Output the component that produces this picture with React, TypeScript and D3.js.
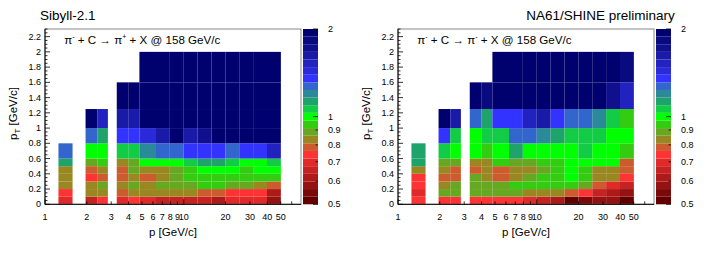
import React from "react";
import * as d3 from "d3";

// p bins [GeV/c] (low / high edges), pT bin edges [GeV/c]
const pLow = [1.25, 1.96, 2.38, 3.29, 3.98, 4.79, 6.31, 7.94, 10.0, 12.59, 15.85, 19.95, 25.12, 31.62, 39.81];
const pHigh = [1.58, 2.38, 2.84, 3.98, 4.79, 6.31, 7.94, 10.0, 12.59, 15.85, 19.95, 25.12, 31.62, 39.81, 50.12];
const ptEdges = [0, 0.1, 0.2, 0.3, 0.4, 0.5, 0.6, 0.8, 1.0, 1.25, 1.6, 2.0];

// ratio values per p bin, listed from the lowest pT bin upward
const sibyll = [
  [0.70, 0.74, 0.84, 0.84, 0.84, 1.13, 1.27],
  [0.66, 0.84, 0.84, 0.74, 0.79, 0.89, 1.00, 1.27, 1.97],
  [0.74, 0.84, 0.89, 0.79, 0.84, 0.94, 1.00, 1.13, 1.53],
  [0.70, 0.79, 0.84, 0.79, 0.79, 0.84, 1.06, 1.35, 1.62, 1.97],
  [0.74, 0.84, 0.89, 0.84, 0.89, 0.89, 1.06, 1.35, 1.62, 1.97],
  [0.70, 0.84, 0.84, 0.79, 0.84, 1.00, 1.20, 1.44, 1.97, 1.97, 1.97],
  [0.66, 0.84, 0.89, 0.84, 0.84, 1.00, 1.27, 1.62, 1.97, 1.97, 1.97],
  [0.66, 0.84, 0.89, 0.89, 0.89, 1.00, 1.27, 1.97, 1.97, 1.97, 1.97],
  [0.66, 0.84, 0.89, 0.94, 0.94, 1.06, 1.35, 1.62, 1.97, 1.97, 1.97],
  [0.66, 0.79, 0.94, 0.94, 1.00, 1.13, 1.35, 1.72, 1.97, 1.97, 1.97],
  [0.62, 0.79, 0.94, 0.94, 1.00, 1.13, 1.35, 1.97, 1.97, 1.97, 1.97],
  [0.70, 0.74, 0.89, 0.94, 1.00, 1.06, 1.27, 1.97, 1.97, 1.97, 1.97],
  [0.70, 0.74, 0.89, 0.94, 0.94, 1.00, 1.35, 1.97, 1.97, 1.97, 1.97],
  [0.70, 0.74, 0.84, 0.94, 1.00, 1.00, 1.35, 1.97, 1.97, 1.97, 1.97],
  [0.58, 0.62, 0.79, 0.94, 1.00, 1.06, 1.53, 1.97, 1.97, 1.97, 1.97],
];

const na61 = [
  [0.74, 0.70, 0.74, 0.74, 0.84, 1.13, 1.13],
  [0.74, 0.89, 0.84, 0.79, 0.84, 0.89, 1.06, 1.35, 1.97],
  [0.74, 0.89, 0.89, 0.79, 0.79, 0.89, 1.00, 1.06, 1.62],
  [0.74, 0.89, 0.89, 0.89, 0.79, 0.84, 1.00, 1.00, 1.27, 1.97],
  [0.74, 0.89, 0.89, 0.84, 0.84, 0.84, 0.94, 1.06, 1.13, 1.83],
  [0.74, 0.89, 0.89, 0.79, 0.79, 0.94, 1.00, 1.06, 1.35, 1.97, 1.97],
  [0.74, 0.89, 0.94, 0.84, 0.84, 0.89, 1.13, 1.27, 1.35, 1.97, 1.97],
  [0.70, 0.84, 0.94, 0.89, 0.84, 0.89, 1.00, 1.27, 1.53, 1.97, 1.97],
  [0.66, 0.84, 0.94, 0.94, 0.89, 0.94, 1.00, 1.20, 1.62, 1.97, 1.97],
  [0.62, 0.84, 0.94, 0.94, 0.94, 0.94, 1.00, 1.13, 1.35, 1.97, 1.97],
  [0.52, 0.79, 0.94, 1.00, 1.00, 1.00, 1.00, 1.06, 1.27, 1.97, 1.97],
  [0.55, 0.74, 0.89, 0.94, 0.94, 1.00, 1.06, 1.06, 1.27, 1.97, 1.97],
  [0.58, 0.66, 0.79, 0.84, 0.84, 1.00, 1.00, 1.06, 1.20, 1.97, 1.97],
  [0.58, 0.62, 0.70, 0.84, 0.84, 1.00, 1.00, 1.00, 1.06, 1.72, 1.97],
  [0.52, 0.58, 0.66, 0.74, 0.79, 0.79, 0.94, 1.00, 0.94, 1.53, 1.83],
];

const xTickLabels = [1, 2, 3, 4, 5, 6, 7, 8, 9, 10, 20, 30, 40, 50];
const xTicks = [1, 2, 3, 4, 5, 6, 7, 8, 9, 10, 20, 30, 40, 50, 60];
const yTickLabels = [0, 0.2, 0.4, 0.6, 0.8, 1, 1.2, 1.4, 1.6, 1.8, 2, 2.2];
const zTickLabels = [0.5, 0.6, 0.7, 0.8, 0.9, 1, 2];

// discrete palette, low -> high
const palette = [
  "#620000", "#7a0a0a", "#941212", "#ae1a1a", "#c62222", "#e02a2a", "#ff3333",
  "#cc5b2d", "#998822", "#66a822", "#33cc11", "#00ff00", "#11cc44", "#1ea36a",
  "#2a8a99", "#3366cc", "#3333ff", "#2a2ad8", "#2222c0", "#1a1aa8", "#10108e",
  "#0a0a80", "#00006e",
];

const FONT = "'Liberation Sans', Arial, Helvetica, sans-serif";

const L = 45, R = 301, T = 29, B = 204.3;
const CB0 = 303, CB1 = 318;

function fmt(v: number) {
  return String(v);
}

function Panel({ dx, data, title, titleRight, signOut }: any) {
  const x = d3.scaleLog().domain([1, 70]).range([L + dx, R + dx]);
  const y = d3.scaleLinear().domain([0, 2.3]).range([B, T]);
  const z = d3.scaleLog().domain([0.5, 2]).range([B, T]);
  const band = d3.scaleLog().domain([0.5, 2]).range([0, palette.length]).clamp(true);
  const color = (v: number) => palette[Math.min(palette.length - 1, Math.floor(band(v)))];

  const cells: any[] = [];
  data.forEach((col: number[], i: number) => {
    col.forEach((v: number, j: number) => {
      cells.push({ x0: x(pLow[i]), x1: x(pHigh[i]), y0: y(ptEdges[j + 1]), y1: y(ptEdges[j]), c: color(v), key: `${i}-${j}` });
    });
  });

  const yMinor = d3.range(0, 2.3001, 0.05);
  const bands = d3.range(palette.length).map((i) => ({
    y0: z(band.invert(i + 1)),
    y1: z(band.invert(i)),
    c: palette[i],
  }));

  return (
    <g>
      {cells.map((c) => (
        <rect key={c.key} x={c.x0} y={c.y0} width={c.x1 - c.x0} height={c.y1 - c.y0} fill={c.c} />
      ))}
      <rect x={L + dx} y={T} width={R - L} height={B - T} fill="none" stroke="#888" strokeWidth={1} />
      <line x1={L + dx} x2={L + dx} y1={T} y2={B} stroke="#000" strokeWidth={1} />
      <line x1={L + dx} x2={R + dx} y1={B} y2={B} stroke="#000" strokeWidth={1} />
      {yMinor.map((v) => {
        const major = Math.abs(v / 0.2 - Math.round(v / 0.2)) < 1e-6;
        return <line key={v} x1={L + dx} x2={L + dx + (major ? 5 : 2.5)} y1={y(v)} y2={y(v)} stroke="#000" strokeWidth={0.8} />;
      })}
      {xTicks.map((v) => {
        const major = v === 1 || v === 10;
        return <line key={v} x1={x(v)} x2={x(v)} y1={B} y2={B - (major ? 5 : 3)} stroke="#000" strokeWidth={0.8} />;
      })}
      {yTickLabels.map((v) => (
        <text key={v} x={L + dx - 4} y={y(v) + 3} fontSize={9} textAnchor="end" fontFamily={FONT}>{fmt(v)}</text>
      ))}
      {xTickLabels.map((v) => (
        <text key={v} x={x(v)} y={219.5} fontSize={9} textAnchor="middle" fontFamily={FONT}>{fmt(v)}</text>
      ))}
      {bands.map((b, i) => (
        <rect key={i} x={CB0 + dx} y={b.y0} width={CB1 - CB0} height={b.y1 - b.y0} fill={b.c} />
      ))}
      {zTickLabels.map((v) => (
        <g key={v}>
          <line x1={CB1 + dx} x2={CB1 + dx - (v === 1 || v === 2 || v === 0.5 ? 5 : 2.5)} y1={z(v)} y2={z(v)} stroke="#000" strokeWidth={0.8} />
          <text x={328 + dx} y={z(v) + 3} fontSize={9} fontFamily={FONT}>{fmt(v)}</text>
        </g>
      ))}
      <text x={64.3 + dx} y={43.8} fontSize={11.6} fontFamily={FONT}>
        π<tspan dy={-4.5} fontSize={7}>-</tspan>
        <tspan dy={4.5}> + C → π</tspan>
        <tspan dy={-4.5} fontSize={7}>{signOut}</tspan>
        <tspan dy={4.5}> + X @ 158 GeV/c</tspan>
      </text>
      <text x={149 + dx} y={235.5} fontSize={11.5} fontFamily={FONT}>p [GeV/c]</text>
      <text transform={`translate(${17 + dx},${140}) rotate(-90)`} fontSize={11.5} fontFamily={FONT}>
        p<tspan dy={3} fontSize={8}>T</tspan>
        <tspan dy={-3}> [GeV/c]</tspan>
      </text>
      {titleRight ? (
        <text x={674.7} y={19.5} fontSize={13.5} textAnchor="end" fontFamily={FONT}>{title}</text>
      ) : (
        <text x={40} y={19.5} fontSize={13.5} fontFamily={FONT}>{title}</text>
      )}
    </g>
  );
}

export default function App() {
  return (
    <svg width={706} height={258} style={{ position: "absolute", left: 0, top: 0, background: "#fff" }}>
      <rect x={0} y={0} width={706} height={258} fill="#fff" />
      <Panel dx={0} data={sibyll} title="Sibyll-2.1" titleRight={false} signOut="+" />
      <Panel dx={353} data={na61} title="NA61/SHINE preliminary" titleRight={true} signOut="-" />
    </svg>
  );
}
